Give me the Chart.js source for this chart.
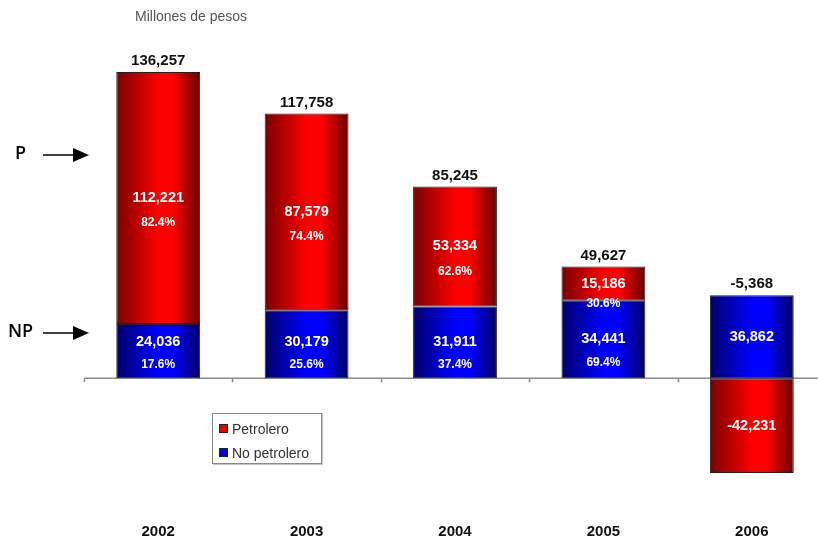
<!DOCTYPE html>
<html>
<head>
<meta charset="utf-8">
<script src="https://cdn.jsdelivr.net/npm/chart.js@4.4.1/dist/chart.umd.min.js"></script>
<style>
  html, body { margin: 0; padding: 0; background: #fff; overflow: hidden; }
  #wrap { position: relative; width: 818px; height: 543px; overflow: hidden; }
  #ourChart { position: absolute; left: 0; top: 0; }
  .units { position: absolute; left: 135px; top: 8px; font: 14px "Liberation Sans", Arial, sans-serif; color: #555; }
  .legend { position: absolute; left: 212px; top: 413px; width: 108px; height: 49px;
            border: 1px solid #8a8a8a; box-shadow: 1px 1px 1px #c8c8c8; background: #fff;
            font: 14px "Liberation Sans", Arial, sans-serif; color: #333; }
  .legend div { position: absolute; left: 6px; height: 16px; line-height: 16px; white-space: nowrap; }
  .legend span { display: inline-block; width: 7px; height: 7px; border: 1px solid #222; margin-right: 4px; vertical-align: 1px; }
</style>
</head>
<body>
<div id="wrap">
  <canvas id="ourChart" width="826" height="551"></canvas>
  <div class="units">Millones de pesos</div>
  <div class="legend">
    <div style="top:7px"><span style="background:#ee0000"></span>Petrolero</div>
    <div style="top:31px"><span style="background:#0000ee"></span>No petrolero</div>
  </div>
</div>
<script>
// Balance en millones de pesos
const years = ['2002', '2003', '2004', '2005', '2006'];
const petrolero = [112221, 87579, 53334, 15186, -42231];
const noPetrolero = [24036, 30179, 31911, 34441, 36862];
const totals = [136257, 117758, 85245, 49627, -5368];

const BAR_PCT = 0.565;

function barGradient(context, dark1, bright, dark2) {
    const chart = context.chart;
    if (!chart.chartArea || !chart.scales.x) return bright;
    const x = chart.scales.x;
    const cx = x.getPixelForValue(context.dataIndex);
    const half = (x.width / years.length) * BAR_PCT / 2;
    const g = chart.ctx.createLinearGradient(cx - half, 0, cx + half, 0);
    g.addColorStop(0, dark1);
    g.addColorStop(0.5, bright);
    g.addColorStop(0.68, bright);
    g.addColorStop(1, dark2);
    return g;
}

function fmt(v) {
    return v.toLocaleString('en-US');
}

// eje en cero con marcas entre categorias
const zeroLine = {
    id: 'zeroLine',
    beforeDatasetsDraw(chart) {
        const ctx = chart.ctx;
        const x = chart.scales.x;
        const y0 = chart.scales.y.getPixelForValue(0);
        const step = x.width / years.length;
        ctx.save();
        ctx.strokeStyle = '#8c8c8c';
        ctx.lineWidth = 1.5;
        ctx.beginPath();
        ctx.moveTo(x.left, y0);
        ctx.lineTo(x.right, y0);
        for (let i = 0; i <= years.length; i++) {
            const px = Math.round(x.left + i * step) + 0.5;
            ctx.moveTo(px, y0);
            ctx.lineTo(px, y0 + 4);
        }
        ctx.stroke();
        ctx.restore();
    }
};

// valores y porcentajes dentro de las barras, totales arriba
const valueLabels = {
    id: 'valueLabels',
    afterDatasetsDraw(chart) {
        const ctx = chart.ctx;
        const yScale = chart.scales.y;
        const y0 = yScale.getPixelForValue(0);
        const blue = chart.getDatasetMeta(0).data;
        const red = chart.getDatasetMeta(1).data;
        ctx.save();
        ctx.textAlign = 'center';
        ctx.textBaseline = 'middle';
        years.forEach((yr, i) => {
            const showPct = petrolero[i] > 0 && noPetrolero[i] > 0;
            const sum = petrolero[i] + noPetrolero[i];

            // petrolero
            const r = red[i];
            const rMid = (r.y + r.base) / 2;
            ctx.fillStyle = '#fff';
            ctx.font = 'bold 14.5px "Liberation Sans", Arial, sans-serif';
            ctx.fillText(fmt(petrolero[i]), r.x, rMid);
            if (showPct) {
                ctx.font = 'bold 12px "Liberation Sans", Arial, sans-serif';
                const off = Math.abs(r.base - r.y) > 50 ? 25 : 20;
                ctx.fillText((petrolero[i] / sum * 100).toFixed(1) + '%', r.x, rMid + off);
            }

            // no petrolero
            const b = blue[i];
            let bMid = Math.min((b.y + b.base) / 2, y0 - 36);
            if (!showPct) bMid = (b.y + b.base) / 2;
            ctx.font = 'bold 14.5px "Liberation Sans", Arial, sans-serif';
            ctx.fillText(fmt(noPetrolero[i]), b.x, bMid);
            if (showPct) {
                ctx.font = 'bold 12px "Liberation Sans", Arial, sans-serif';
                ctx.fillText((noPetrolero[i] / sum * 100).toFixed(1) + '%', b.x, bMid + 23);
            }

            // total
            const top = Math.max(petrolero[i], 0) + Math.max(noPetrolero[i], 0);
            ctx.fillStyle = '#111';
            ctx.font = 'bold 15px "Liberation Sans", Arial, sans-serif';
            ctx.fillText(fmt(totals[i]), b.x, yScale.getPixelForValue(top) - 11);
        });
        ctx.restore();
    },
    afterDraw(chart) {
        // flechas P / NP
        const ctx = chart.ctx;
        ctx.save();
        ctx.fillStyle = '#000';
        ctx.strokeStyle = '#000';
        ctx.font = '600 18px "Open Sans", sans-serif';
        ctx.textBaseline = 'middle';
        ctx.textAlign = 'left';
        [['P', 15, 154], ['NP', 8, 332]].forEach(([txt, tx, ty]) => {
            ctx.fillText(txt, tx, ty);
            ctx.lineWidth = 1.5;
            ctx.beginPath();
            ctx.moveTo(43, ty + 1);
            ctx.lineTo(78, ty + 1);
            ctx.stroke();
            ctx.beginPath();
            ctx.moveTo(89, ty + 1);
            ctx.lineTo(73, ty - 6);
            ctx.lineTo(73, ty + 8);
            ctx.closePath();
            ctx.fill();
        });
        ctx.restore();
    }
};

const chartElement = new Chart(document.getElementById('ourChart'), {
    type: 'bar',
    data: {
        labels: years,
        datasets: [
            {
                label: 'No petrolero',
                data: noPetrolero,
                backgroundColor: (c) => barGradient(c, '#00006e', '#0000ff', '#000060'),
                borderColor: '#222',
                borderWidth: 1,
                borderSkipped: false,
                categoryPercentage: 1,
                barPercentage: BAR_PCT
            },
            {
                label: 'Petrolero',
                data: petrolero,
                backgroundColor: (c) => barGradient(c, '#7a0000', '#ff0000', '#650000'),
                borderColor: '#222',
                borderWidth: 1,
                borderSkipped: false,
                categoryPercentage: 1,
                barPercentage: BAR_PCT
            }
        ]
    },
    options: {
        responsive: false,
        animation: false,
        layout: {
            padding: { left: 84, right: 0, top: 41, bottom: 0 }
        },
        plugins: {
            legend: { display: false },
            tooltip: { enabled: false }
        },
        scales: {
            x: {
                stacked: true,
                grid: { display: false, drawTicks: false },
                border: { display: false },
                ticks: {
                    color: '#111',
                    padding: 10,
                    font: { family: '"Liberation Sans", Arial, sans-serif', size: 15, weight: 'bold' }
                }
            },
            y: {
                stacked: true,
                display: false,
                min: -60000,
                max: 150000
            }
        }
    },
    plugins: [zeroLine, valueLabels]
});
</script>
</body>
</html>
